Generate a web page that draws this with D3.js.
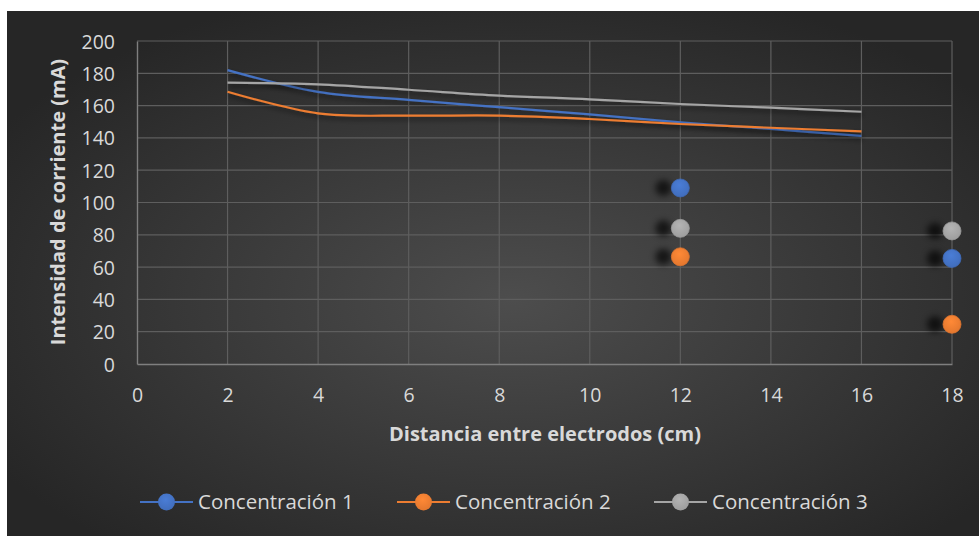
<!DOCTYPE html>
<html>
<head>
<meta charset="utf-8">
<script src="https://cdn.jsdelivr.net/npm/d3@7"></script>
<style>
  html, body { margin: 0; padding: 0; background: #ffffff; }
  svg { display: block; }
  text { font-family: "Open Sans", "Lato", sans-serif; }
</style>
</head>
<body>
<svg id="chart" width="979" height="536"></svg>
<script>
// Distance between electrodes (cm) for the smoothed curves
const distances = [2, 4, 6, 8, 10, 12, 14, 16];

// Current intensity (mA) along each curve
const conc1Line = [182, 168.5, 163.5, 159, 154.6, 149.6, 145.5, 141.2];
const conc2Line = [168.6, 155.2, 153.8, 153.8, 151.7, 148.6, 146.3, 144];
const conc3Line = [174.2, 173.2, 169.8, 166.2, 163.9, 161, 158.7, 156.2];

// Individual measurements shown as markers
const pointDistances = [12, 18];
const conc1Points = [109, 65.4];
const conc2Points = [66.4, 24.6];
const conc3Points = [84, 82.4];

const seriesNames = ["Concentración 1", "Concentración 2", "Concentración 3"];
const seriesColors = ["#4472c4", "#ed7d31", "#a5a5a5"];

const xTicks = [0, 2, 4, 6, 8, 10, 12, 14, 16, 18];
const yTicks = [0, 20, 40, 60, 80, 100, 120, 140, 160, 180, 200];

const xTitle = "Distancia entre electrodos (cm)";
const yTitle = "Intensidad de corriente (mA)";

const series = seriesNames.map((name, i) => ({
  name,
  color: seriesColors[i],
  line: distances.map((d, j) => ({ x: d, y: [conc1Line, conc2Line, conc3Line][i][j] })),
  points: pointDistances.map((d, j) => ({ x: d, y: [conc1Points, conc2Points, conc3Points][i][j] }))
}));

const svg = d3.select("#chart");
const W = 979, H = 536;

const defs = svg.append("defs");
const bg = defs.append("radialGradient").attr("id", "bgGrad")
  .attr("cx", "52%").attr("cy", "55%").attr("r", "62%");
bg.append("stop").attr("offset", "0%").attr("stop-color", "#4d4d4d");
bg.append("stop").attr("offset", "100%").attr("stop-color", "#262626");

const lineShadow = defs.append("filter").attr("id", "lineShadow")
  .attr("x", "-5%").attr("y", "-50%").attr("width", "110%").attr("height", "200%");
lineShadow.append("feDropShadow").attr("dx", 1).attr("dy", 3)
  .attr("stdDeviation", 2.5).attr("flood-color", "#000").attr("flood-opacity", 0.55);

const markerBlur = defs.append("filter").attr("id", "markerBlur")
  .attr("x", "-100%").attr("y", "-100%").attr("width", "300%").attr("height", "300%");
markerBlur.append("feGaussianBlur").attr("stdDeviation", 3);

seriesColors.forEach((c, i) => {
  const g = defs.append("radialGradient").attr("id", "mk" + i)
    .attr("cx", "45%").attr("cy", "35%").attr("r", "70%");
  g.append("stop").attr("offset", "0%").attr("stop-color", d3.color(c).brighter(0.25));
  g.append("stop").attr("offset", "100%").attr("stop-color", d3.color(c).darker(0.15));
});

// Chart area background
svg.append("rect").attr("x", 7).attr("y", 11).attr("width", W - 7).attr("height", H - 11)
  .attr("fill", "url(#bgGrad)");

const x = d3.scaleLinear().domain([0, 18]).range([137, 952]);
const y = d3.scaleLinear().domain([0, 200]).range([364, 41]);

// Gridlines
const grid = svg.append("g");
grid.selectAll(".hg").data(yTicks.filter(t => t > 0)).join("line")
  .attr("x1", x(0)).attr("x2", x(18))
  .attr("y1", d => y(d)).attr("y2", d => y(d))
  .attr("stroke", "#5e5e5e").attr("stroke-width", 1.2);
grid.selectAll(".vg").data(xTicks.filter(t => t > 0)).join("line")
  .attr("x1", d => x(d)).attr("x2", d => x(d))
  .attr("y1", y(0)).attr("y2", y(200))
  .attr("stroke", "#5e5e5e").attr("stroke-width", 1.2);

// Axes
const xAxis = svg.append("g").attr("transform", `translate(0,${y(0)})`)
  .call(d3.axisBottom(x).tickValues(xTicks).tickSize(0).tickPadding(24));
const yAxis = svg.append("g").attr("transform", `translate(${x(0)},0)`)
  .call(d3.axisLeft(y).tickValues(yTicks).tickSize(0).tickPadding(22));
[xAxis, yAxis].forEach(a => {
  a.select(".domain").attr("stroke", "#7f7f7f").attr("stroke-width", 1.4);
  a.selectAll("text").attr("fill", "#d9d9d9").attr("font-size", 19.5)
    .attr("font-family", "'Open Sans', Lato, sans-serif");
});
xAxis.selectAll("text").attr("dy", "0.71em");
yAxis.selectAll("text").attr("dy", "0.36em");

// Axis titles
svg.append("text").attr("x", 545).attr("y", 441).attr("text-anchor", "middle")
  .attr("fill", "#d9d9d9").attr("font-size", 20).attr("font-weight", "bold").text(xTitle);
svg.append("text").attr("transform", `translate(65,202) rotate(-90)`)
  .attr("text-anchor", "middle").attr("fill", "#d9d9d9").attr("font-size", 20)
  .attr("font-weight", "bold").text(yTitle);

// Smoothed curves
const lineGen = d3.line().x(d => x(d.x)).y(d => y(d.y)).curve(d3.curveCatmullRom.alpha(0.5));
const lines = svg.append("g");
series.forEach(s => {
  lines.append("path").datum(s.line).attr("d", lineGen)
    .attr("fill", "none").attr("stroke", s.color).attr("stroke-width", 2.2)
    .attr("filter", "url(#lineShadow)");
});

// Measurement markers with soft shadows
const marks = svg.append("g");
series.forEach((s, i) => {
  marks.selectAll(null).data(s.points).join("circle")
    .attr("cx", d => x(d.x) - 17).attr("cy", d => y(d.y)).attr("r", 8)
    .attr("fill", "#000").attr("opacity", 0.65).attr("filter", "url(#markerBlur)");
});
series.forEach((s, i) => {
  marks.selectAll(null).data(s.points).join("circle")
    .attr("cx", d => x(d.x)).attr("cy", d => y(d.y)).attr("r", 9)
    .attr("fill", `url(#mk${i})`)
    .attr("stroke", d3.color(s.color).darker(0.2)).attr("stroke-width", 0.8);
});

// Legend
const legendX = [140, 397, 654];
const legend = svg.append("g");
series.forEach((s, i) => {
  const g = legend.append("g").attr("transform", `translate(${legendX[i]},502)`);
  g.append("line").attr("x1", 0).attr("x2", 53).attr("stroke", s.color).attr("stroke-width", 2.2);
  g.append("circle").attr("cx", 26.5).attr("r", 8.5).attr("fill", `url(#mk${i})`);
  g.append("text").attr("x", 58).attr("dy", "0.36em").attr("fill", "#d9d9d9")
    .attr("font-size", 20.5).text(s.name);
});
</script>
</body>
</html>
